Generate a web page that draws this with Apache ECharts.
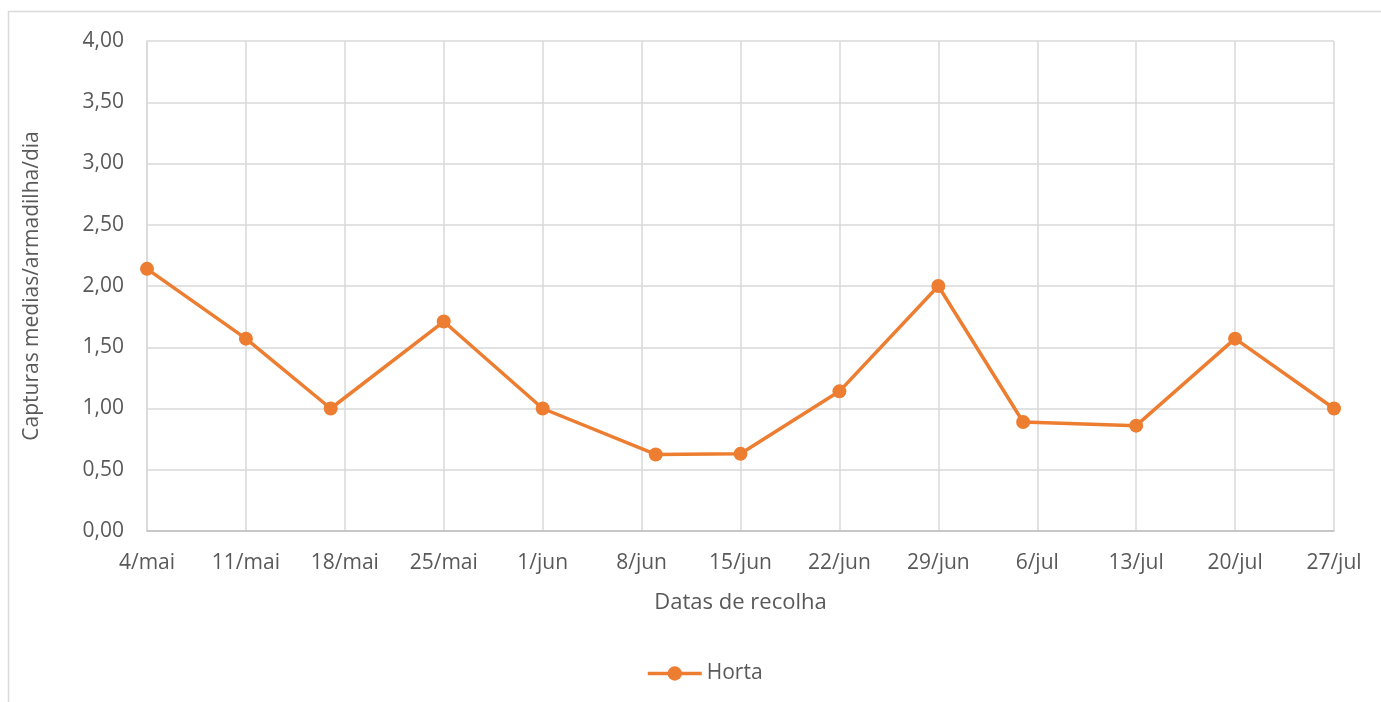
<!DOCTYPE html>
<html>
<head>
<meta charset="utf-8">
<script src="https://cdn.jsdelivr.net/npm/echarts@6/dist/echarts.min.js"></script>
<style>
  html, body { margin: 0; padding: 0; background: #fff; }
  #chart { width: 1381px; height: 702px; }
</style>
</head>
<body>
<div id="chart"></div>
<script>
// datas de recolha e capturas medias
const sampleDates = ['2021-05-04', '2021-05-11', '2021-05-17', '2021-05-25', '2021-06-01', '2021-06-09', '2021-06-15',
  '2021-06-22', '2021-06-29', '2021-07-05', '2021-07-13', '2021-07-20', '2021-07-27'];
const horta = [2.14, 1.57, 1.00, 1.71, 1.00, 0.625, 0.63, 1.14, 2.00, 0.89, 0.86, 1.57, 1.00];
const tickLabels = ['4/mai', '11/mai', '18/mai', '25/mai', '1/jun', '8/jun', '15/jun', '22/jun', '29/jun',
  '6/jul', '13/jul', '20/jul', '27/jul'];

const day0 = Date.parse(sampleDates[0]);
const points = sampleDates.map((d, i) => [(Date.parse(d) - day0) / 86400000, horta[i]]);

const textColor = '#595959';
const font = 'Open Sans';

const chart = echarts.init(document.getElementById('chart'));
chart.setOption({
  animation: false,
  textStyle: { fontFamily: font },
  graphic: [{
    type: 'rect',
    shape: { x: 8.5, y: 11.5, width: 1500, height: 900 },
    style: { fill: 'none', stroke: '#D9D9D9', lineWidth: 1.5 },
    silent: true
  }],
  grid: { left: 147, right: 47, top: 41, bottom: 171 },
  legend: {
    bottom: 13,
    left: 641,
    itemWidth: 54,
    itemHeight: 18,
    itemGap: 6,
    lineStyle: { width: 3.5 },
    textStyle: { color: textColor, fontSize: 21, fontFamily: font },
    data: ['Horta']
  },
  xAxis: {
    type: 'value',
    min: 0,
    max: 84,
    interval: 7,
    name: 'Datas de recolha',
    nameLocation: 'middle',
    nameGap: 61,
    nameTextStyle: { color: textColor, fontSize: 22, fontFamily: font },
    axisLine: { lineStyle: { color: '#BFBFBF', width: 1.5 } },
    axisTick: { show: false },
    axisLabel: {
      color: textColor, fontSize: 21, margin: 22,
      formatter: v => tickLabels[Math.round(v / 7)] || ''
    },
    splitLine: { show: true, lineStyle: { color: '#D9D9D9', width: 1.5 } }
  },
  yAxis: {
    type: 'value',
    min: 0,
    max: 4,
    interval: 0.5,
    name: 'Capturas medias/armadilha/dia',
    nameLocation: 'middle',
    nameGap: 104,
    nameTextStyle: { color: textColor, fontSize: 21, fontFamily: font },
    axisLine: { show: true, lineStyle: { color: '#D9D9D9', width: 1.5 } },
    axisTick: { show: false },
    axisLabel: {
      color: textColor, fontSize: 21, margin: 23,
      formatter: v => v.toFixed(2).replace('.', ',')
    },
    splitLine: { lineStyle: { color: '#D9D9D9', width: 1.5 } }
  },
  series: [{
    name: 'Horta',
    type: 'line',
    data: points,
    color: '#ED7D31',
    symbol: 'circle',
    symbolSize: 14,
    lineStyle: { width: 3.5 }
  }]
});
</script>
</body>
</html>
